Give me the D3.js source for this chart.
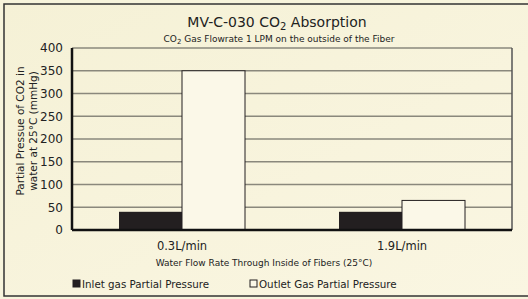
<!DOCTYPE html>
<html>
<head>
<meta charset="utf-8">
<script src="https://cdnjs.cloudflare.com/ajax/libs/d3/7.8.5/d3.min.js"></script>
<style>
  body { margin: 0; background: #f7f4dc; }
  svg { display: block; font-family: "DejaVu Sans", sans-serif; }
  .axis path, .axis line { display: none; }
  .axis text { fill: #222; font-size: 12px; font-family: "DejaVu Sans", sans-serif; }
  .axis.xax text { font-size: 11.5px; }
</style>
</head>
<body>
<script>
// data
var categories = ["0.3L/min", "1.9L/min"];
var seriesNames = ["Inlet gas Partial Pressure", "Outlet Gas Partial Pressure"];
var inletValues = [40, 40];
var outletValues = [350, 65];
var yTicks = [0, 50, 100, 150, 200, 250, 300, 350, 400];

var w = 528, h = 299;
var plotL = 72, plotR = 512, plotT = 48, plotB = 230;

var svg = d3.select("body").append("svg")
    .attr("width", w)
    .attr("height", h);

// background + frame
var grad = svg.append("defs").append("linearGradient")
    .attr("id", "bg").attr("x1", "0").attr("y1", "0").attr("x2", "1").attr("y2", "1");
grad.append("stop").attr("offset", "0%").attr("stop-color", "#f5f1d6");
grad.append("stop").attr("offset", "100%").attr("stop-color", "#faf6e2");
svg.append("rect").attr("width", w).attr("height", h).attr("fill", "#f7f4dc");
svg.append("rect").attr("x", 4).attr("y", 4).attr("width", w).attr("height", 292)
    .attr("fill", "url(#bg)").attr("stroke", "#333").attr("stroke-width", 1.5);

var x = d3.scaleBand().domain(categories).range([plotL, plotR]);
var y = d3.scaleLinear().domain([0, 400]).range([plotB, plotT]);
var barW = 63;

// gridlines
svg.selectAll(".grid").data(yTicks.slice(1)).enter().append("line")
    .attr("x1", plotL).attr("x2", plotR)
    .attr("y1", function(d) { return y(d); })
    .attr("y2", function(d) { return y(d); })
    .attr("stroke", "#8a887c").attr("stroke-width", 1.5);
svg.append("line").attr("x1", plotR).attr("x2", plotR)
    .attr("y1", y(400)).attr("y2", y(0))
    .attr("stroke", "#555").attr("stroke-width", 1.5);

// bars
svg.selectAll(".inlet").data(categories).enter().append("rect")
    .attr("x", function(d) { return x(d) + x.bandwidth() / 2 - barW; })
    .attr("y", function(d, i) { return y(inletValues[i]); })
    .attr("width", barW)
    .attr("height", function(d, i) { return y(0) - y(inletValues[i]); })
    .attr("fill", "#231f20");
svg.selectAll(".outlet").data(categories).enter().append("rect")
    .attr("x", function(d) { return x(d) + x.bandwidth() / 2; })
    .attr("y", function(d, i) { return y(outletValues[i]); })
    .attr("width", barW)
    .attr("height", function(d, i) { return y(0) - y(outletValues[i]); })
    .attr("fill", "#fbf8e8").attr("stroke", "#231f20").attr("stroke-width", 1);

// axis lines
svg.append("line").attr("x1", plotL).attr("x2", plotL).attr("y1", y(400)).attr("y2", y(0))
    .attr("stroke", "#111").attr("stroke-width", 2.5);
svg.append("line").attr("x1", plotL).attr("x2", plotR).attr("y1", y(0)).attr("y2", y(0))
    .attr("stroke", "#111").attr("stroke-width", 2.5);

svg.append("g").attr("class", "axis")
    .attr("transform", "translate(" + (plotL - 5) + ",0)")
    .call(d3.axisLeft(y).tickValues(yTicks).tickSize(0).tickPadding(4));

svg.append("g").attr("class", "axis xax")
    .attr("transform", "translate(0," + (plotB + 8) + ")")
    .call(d3.axisBottom(x).tickSize(0).tickPadding(4));

// titles
svg.append("text").attr("x", 277).attr("y", 27).attr("text-anchor", "middle")
    .style("font-size", "14px").attr("fill", "#222")
    .html("MV-C-030 CO<tspan font-size='10px' dy='3'>2</tspan><tspan dy='-3'> Absorption</tspan>");
svg.append("text").attr("x", 279).attr("y", 42).attr("text-anchor", "middle")
    .style("font-size", "9px").attr("fill", "#222")
    .html("CO<tspan font-size='7px' dy='2'>2</tspan><tspan dy='-2'> Gas Flowrate 1 LPM on the outside of the Fiber</tspan>");

var yl = svg.append("text").attr("transform", "translate(24,131) rotate(-90)")
    .attr("text-anchor", "middle").style("font-size", "10.5px").attr("fill", "#222");
yl.append("tspan").attr("x", 0).attr("y", 0).text("Partial Pressue of CO2 in");
yl.append("tspan").attr("x", 0).attr("y", 12.5).text("water at 25°C (mmHg)");

svg.append("text").attr("x", 264).attr("y", 266).attr("text-anchor", "middle")
    .style("font-size", "9px").attr("fill", "#222")
    .text("Water Flow Rate Through Inside of Fibers (25°C)");

// legend
var legX = [73, 250];
seriesNames.forEach(function(name, i) {
  svg.append("rect").attr("x", legX[i]).attr("y", 280).attr("width", 7).attr("height", 7)
      .attr("fill", i === 0 ? "#231f20" : "#fbf8e8")
      .attr("stroke", "#231f20").attr("stroke-width", 1);
  svg.append("text").attr("x", legX[i] + 9).attr("y", 288)
      .style("font-size", "10.3px").attr("fill", "#222").text(name);
});
</script>
</body>
</html>
